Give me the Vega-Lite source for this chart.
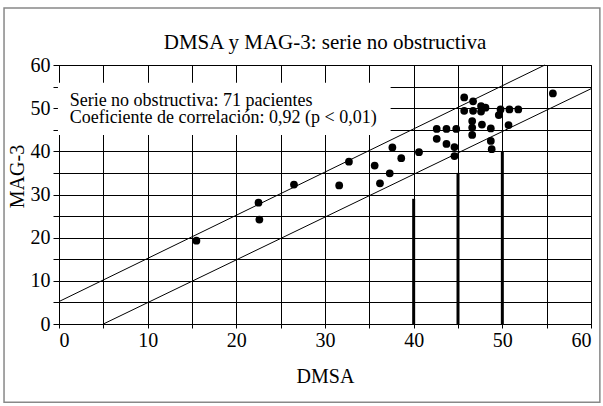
{
  "$schema": "https://vega.github.io/schema/vega-lite/v6.json",
  "width": 532,
  "height": 259,
  "autosize": {"type": "none"},
  "padding": {"left": 59, "top": 65, "right": 12, "bottom": 82},
  "background": "white",
  "title": {
    "text": "DMSA y MAG-3: serie no obstructiva",
    "font": "Liberation Serif",
    "fontSize": 21,
    "fontWeight": "normal",
    "color": "black",
    "anchor": "middle",
    "frame": "group",
    "offset": -46
  },
  "config": {
    "font": "Liberation Serif",
    "view": {"stroke": "black", "strokeWidth": 1},
    "axis": {
      "domainColor": "black",
      "tickColor": "black",
      "gridColor": "black",
      "gridOpacity": 1,
      "gridWidth": 1,
      "labelColor": "black",
      "labelFont": "Liberation Serif",
      "labelFontSize": 20,
      "titleFont": "Liberation Serif",
      "titleFontSize": 20,
      "titleFontWeight": "normal",
      "titleColor": "black"
    }
  },
  "datasets": {
    "points": [
      {"DMSA": 15.5, "MAG3": 19.3},
      {"DMSA": 22.5, "MAG3": 28.1},
      {"DMSA": 22.6, "MAG3": 24.2},
      {"DMSA": 26.5, "MAG3": 32.3},
      {"DMSA": 31.6, "MAG3": 32.1},
      {"DMSA": 32.7, "MAG3": 37.6},
      {"DMSA": 35.6, "MAG3": 36.7},
      {"DMSA": 36.2, "MAG3": 32.6},
      {"DMSA": 37.3, "MAG3": 34.9},
      {"DMSA": 37.6, "MAG3": 40.9},
      {"DMSA": 38.6, "MAG3": 38.4},
      {"DMSA": 40.6, "MAG3": 39.8},
      {"DMSA": 42.6, "MAG3": 45.2},
      {"DMSA": 43.7, "MAG3": 45.2},
      {"DMSA": 44.8, "MAG3": 45.2},
      {"DMSA": 42.6, "MAG3": 42.9},
      {"DMSA": 43.7, "MAG3": 41.7},
      {"DMSA": 44.6, "MAG3": 41.0},
      {"DMSA": 44.6, "MAG3": 38.9},
      {"DMSA": 45.7, "MAG3": 52.5},
      {"DMSA": 46.7, "MAG3": 51.6},
      {"DMSA": 45.7, "MAG3": 49.4},
      {"DMSA": 46.7, "MAG3": 49.4},
      {"DMSA": 47.6, "MAG3": 50.5},
      {"DMSA": 48.1, "MAG3": 50.1},
      {"DMSA": 47.6, "MAG3": 49.2},
      {"DMSA": 46.6, "MAG3": 47.0},
      {"DMSA": 46.6, "MAG3": 45.5},
      {"DMSA": 46.6, "MAG3": 43.8},
      {"DMSA": 47.7, "MAG3": 46.2},
      {"DMSA": 48.7, "MAG3": 45.3},
      {"DMSA": 48.7, "MAG3": 42.4},
      {"DMSA": 48.8, "MAG3": 40.5},
      {"DMSA": 49.8, "MAG3": 49.7},
      {"DMSA": 50.8, "MAG3": 49.7},
      {"DMSA": 51.8, "MAG3": 49.7},
      {"DMSA": 49.6, "MAG3": 48.4},
      {"DMSA": 50.7, "MAG3": 46.1},
      {"DMSA": 55.7, "MAG3": 53.4}
    ],
    "lines": [
      {"line": "superior", "DMSA": 0, "MAG3": 5.2},
      {"line": "superior", "DMSA": 54.8, "MAG3": 60},
      {"line": "inferior", "DMSA": 5, "MAG3": 0},
      {"line": "inferior", "DMSA": 60, "MAG3": 54.5}
    ],
    "bars": [
      {"DMSA": 40, "MAG3": 29},
      {"DMSA": 45, "MAG3": 35},
      {"DMSA": 50, "MAG3": 40}
    ],
    "note": [
      {"label": "Serie no obstructiva: 71 pacientes\nCoeficiente de correlación: 0,92 (p < 0,01)"}
    ]
  },
  "layer": [
    {
      "data": {"name": "note"},
      "mark": {"type": "rect", "filled": false, "stroke": "#888888", "strokeWidth": 1.5, "clip": false},
      "encoding": {
        "x": {"datum": -6.2, "type": "quantitative", "scale": {"domain": [0, 60], "nice": false},
          "axis": {"title": "DMSA", "values": [0, 5, 10, 15, 20, 25, 30, 35, 40, 45, 50, 55, 60], "labelExpr": "datum.value % 10 === 0 ? datum.label : ''", "grid": true, "tickSize": 4, "labelPadding": 2, "titlePadding": 16}},
        "x2": {"datum": 61.0},
        "y": {"datum": 73.2, "type": "quantitative", "scale": {"domain": [0, 60], "nice": false},
          "axis": {"title": "MAG-3", "values": [0, 5, 10, 15, 20, 25, 30, 35, 40, 45, 50, 55, 60], "labelExpr": "datum.value % 10 === 0 ? datum.label : ''", "grid": true, "tickSize": 6, "labelPadding": 3, "titlePadding": 3, "titleY": 111}},
        "y2": {"datum": -18.1}
      }
    },
    {
      "data": {"name": "note"},
      "mark": {"type": "rect", "fill": "white", "stroke": null},
      "encoding": {
        "x": {"datum": -0.12, "type": "quantitative", "scale": {"domain": [0, 60], "nice": false},
          "axis": {"title": "DMSA", "values": [0, 5, 10, 15, 20, 25, 30, 35, 40, 45, 50, 55, 60], "labelExpr": "datum.value % 10 === 0 ? datum.label : ''", "grid": true, "tickSize": 4, "labelPadding": 2, "titlePadding": 16}},
        "x2": {"datum": 37.4},
        "y": {"datum": 43.8, "type": "quantitative", "scale": {"domain": [0, 60], "nice": false},
          "axis": {"title": "MAG-3", "values": [0, 5, 10, 15, 20, 25, 30, 35, 40, 45, 50, 55, 60], "labelExpr": "datum.value % 10 === 0 ? datum.label : ''", "grid": true, "tickSize": 6, "labelPadding": 3, "titlePadding": 3, "titleY": 111}},
        "y2": {"datum": 55.9}
      }
    },
    {
      "data": {"name": "lines"},
      "mark": {"type": "line", "color": "black", "strokeWidth": 1},
      "encoding": {
        "x": {"field": "DMSA", "type": "quantitative", "scale": {"domain": [0, 60], "nice": false},
          "axis": {"title": "DMSA", "values": [0, 5, 10, 15, 20, 25, 30, 35, 40, 45, 50, 55, 60], "labelExpr": "datum.value % 10 === 0 ? datum.label : ''", "grid": true, "tickSize": 4, "labelPadding": 2, "titlePadding": 16}},
        "y": {"field": "MAG3", "type": "quantitative", "scale": {"domain": [0, 60], "nice": false},
          "axis": {"title": "MAG-3", "values": [0, 5, 10, 15, 20, 25, 30, 35, 40, 45, 50, 55, 60], "labelExpr": "datum.value % 10 === 0 ? datum.label : ''", "grid": true, "tickSize": 6, "labelPadding": 3, "titlePadding": 3, "titleY": 111}},
        "detail": {"field": "line"}
      }
    },
    {
      "data": {"name": "bars"},
      "mark": {"type": "rule", "color": "black", "strokeWidth": 3},
      "encoding": {
        "x": {"field": "DMSA", "type": "quantitative", "scale": {"domain": [0, 60], "nice": false},
          "axis": {"title": "DMSA", "values": [0, 5, 10, 15, 20, 25, 30, 35, 40, 45, 50, 55, 60], "labelExpr": "datum.value % 10 === 0 ? datum.label : ''", "grid": true, "tickSize": 4, "labelPadding": 2, "titlePadding": 16}},
        "y": {"field": "MAG3", "type": "quantitative", "scale": {"domain": [0, 60], "nice": false},
          "axis": {"title": "MAG-3", "values": [0, 5, 10, 15, 20, 25, 30, 35, 40, 45, 50, 55, 60], "labelExpr": "datum.value % 10 === 0 ? datum.label : ''", "grid": true, "tickSize": 6, "labelPadding": 3, "titlePadding": 3, "titleY": 111}},
        "y2": {"datum": 0}
      }
    },
    {
      "data": {"name": "points"},
      "mark": {"type": "circle", "color": "black", "opacity": 1, "size": 60},
      "encoding": {
        "x": {"field": "DMSA", "type": "quantitative", "scale": {"domain": [0, 60], "nice": false},
          "axis": {"title": "DMSA", "values": [0, 5, 10, 15, 20, 25, 30, 35, 40, 45, 50, 55, 60], "labelExpr": "datum.value % 10 === 0 ? datum.label : ''", "grid": true, "tickSize": 4, "labelPadding": 2, "titlePadding": 16}},
        "y": {"field": "MAG3", "type": "quantitative", "scale": {"domain": [0, 60], "nice": false},
          "axis": {"title": "MAG-3", "values": [0, 5, 10, 15, 20, 25, 30, 35, 40, 45, 50, 55, 60], "labelExpr": "datum.value % 10 === 0 ? datum.label : ''", "grid": true, "tickSize": 6, "labelPadding": 3, "titlePadding": 3, "titleY": 111}}
      }
    },
    {
      "data": {"name": "note"},
      "mark": {"type": "text", "align": "left", "baseline": "alphabetic", "lineBreak": "\n", "lineHeight": 17.5, "fontSize": 18, "font": "Liberation Serif", "color": "black"},
      "encoding": {
        "x": {"datum": 1.2, "type": "quantitative", "scale": {"domain": [0, 60], "nice": false},
          "axis": {"title": "DMSA", "values": [0, 5, 10, 15, 20, 25, 30, 35, 40, 45, 50, 55, 60], "labelExpr": "datum.value % 10 === 0 ? datum.label : ''", "grid": true, "tickSize": 4, "labelPadding": 2, "titlePadding": 16}},
        "y": {"datum": 50.6, "type": "quantitative", "scale": {"domain": [0, 60], "nice": false},
          "axis": {"title": "MAG-3", "values": [0, 5, 10, 15, 20, 25, 30, 35, 40, 45, 50, 55, 60], "labelExpr": "datum.value % 10 === 0 ? datum.label : ''", "grid": true, "tickSize": 6, "labelPadding": 3, "titlePadding": 3, "titleY": 111}},
        "text": {"field": "label"}
      }
    }
  ]
}
